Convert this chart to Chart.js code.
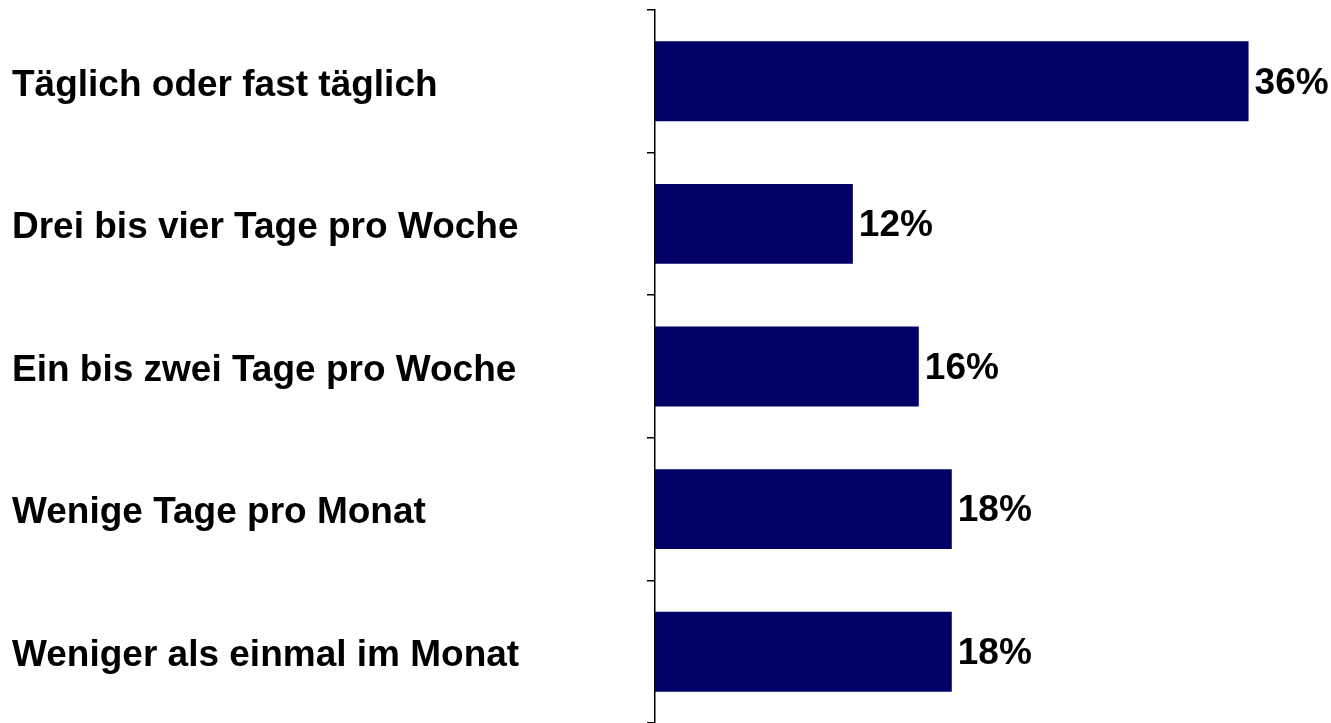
<!DOCTYPE html>
<html>
<head>
<meta charset="utf-8">
<title>Nutzungshäufigkeit</title>
<script src="https://cdn.jsdelivr.net/npm/chart.js@4/dist/chart.umd.min.js"></script>
<style>
	html, body {
		margin : 0;
		padding : 0;
		background : #ffffff;
	}
	canvas {
		display : block;
	}
</style>
</head>
<body>
<canvas id="frequency" width="1331" height="723"></canvas>
<script>
var categories = [ 'Täglich oder fast täglich', 'Drei bis vier Tage pro Woche',
		'Ein bis zwei Tage pro Woche', 'Wenige Tage pro Monat',
		'Weniger als einmal im Monat' ];

var shares = [ 36, 12, 16, 18, 18 ];

var xMin = 0;
var xMax = 41;

var labelFont = 'bold 37px "Liberation Sans", Arial, sans-serif';

// draws "36%" etc. right of each bar
var valueLabels = {
	id : 'valueLabels',
	afterDatasetsDraw : function(c) {
		var ctx = c.ctx;
		var meta = c.getDatasetMeta(0);
		ctx.save();
		ctx.font = labelFont;
		ctx.fillStyle = '#000000';
		ctx.textAlign = 'left';
		ctx.textBaseline = 'middle';
		meta.data.forEach(function(bar, i) {
			ctx.fillText(shares[i] + '%', bar.x + 6, bar.y + 2);
		});
		ctx.restore();
	}
};

var chart = {

	createChartData : function() {
		return {
			labels : categories,
			datasets : [ {
				data : shares,
				backgroundColor : '#000066',
				borderWidth : 0,
				barPercentage : 0.56,
				categoryPercentage : 1.0
			} ]
		};
	},

	renderChart : function(chartData) {

		var context2D = document.getElementById("frequency").getContext("2d"),

		myChart = new Chart(context2D, {
			type : 'bar',
			data : chartData,
			plugins : [ valueLabels ],
			options : {
				indexAxis : 'y',
				responsive : false,
				animation : false,
				layout : {
					padding : {
						left : 12,
						top : 10,
						right : 0,
						bottom : 0
					}
				},
				plugins : {
					legend : {
						display : false
					},
					tooltip : {
						enabled : false
					}
				},
				scales : {
					x : {
						display : false,
						min : xMin,
						max : xMax
					},
					y : {
						afterFit : function(scale) {
							scale.width = 643;
							scale.paddingTop = 0;
							scale.paddingBottom = 0;
						},
						border : {
							color : '#000000',
							width : 1.5
						},
						grid : {
							display : true,
							drawOnChartArea : false,
							offset : true,
							color : '#000000',
							lineWidth : 1.5,
							tickLength : 8
						},
						ticks : {
							crossAlign : 'far',
							color : '#000000',
							padding : 4,
							labelOffset : 4,
							font : {
								family : '"Liberation Sans", Arial, sans-serif',
								size : 37,
								weight : 'bold'
							}
						}
					}
				}
			}
		});

		return myChart;
	},

	initChart : function() {
		var chartData = chart.createChartData();
		chartObj = chart.renderChart(chartData);
	}
};

chart.initChart();
</script>
</body>
</html>
